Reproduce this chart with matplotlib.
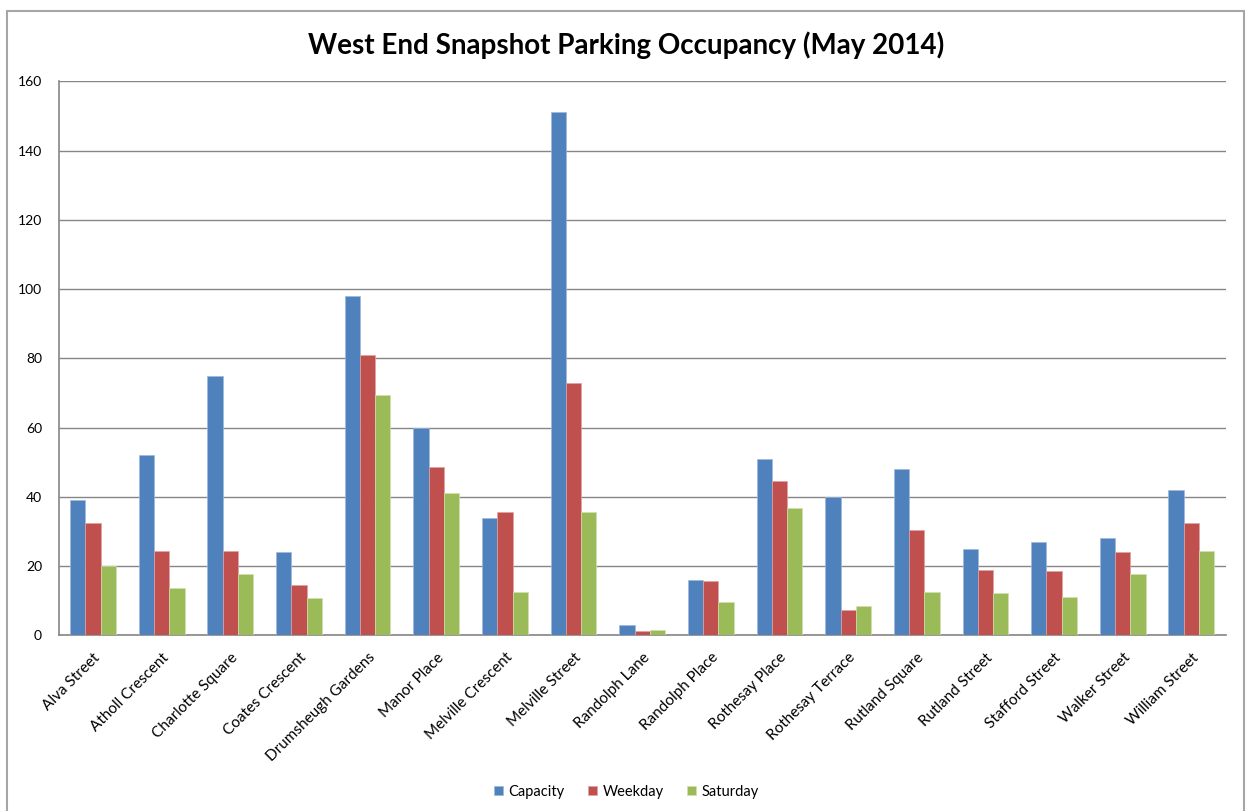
import matplotlib
matplotlib.use('Agg')
import matplotlib.pyplot as plt
from matplotlib.patches import Rectangle
import numpy as np

streets = ['Alva Street', 'Atholl Crescent', 'Charlotte Square', 'Coates Crescent',
           'Drumsheugh Gardens', 'Manor Place', 'Melville Crescent', 'Melville Street',
           'Randolph Lane', 'Randolph Place', 'Rothesay Place', 'Rothesay Terrace',
           'Rutland Square', 'Rutland Street', 'Stafford Street', 'Walker Street',
           'William Street']
capacity = [39, 52, 75, 24, 98, 60, 34, 151, 3, 16, 51, 40, 48, 25, 27, 28, 42]
weekday = [32.5, 24.4, 24.4, 14.6, 80.9, 48.5, 35.5, 73, 1.2, 15.8, 44.5, 7.4, 30.3, 19, 18.7, 24.1, 32.5]
saturday = [20, 13.6, 17.6, 10.7, 69.4, 41.2, 12.4, 35.5, 1.6, 9.5, 36.9, 8.5, 12.4, 12.1, 11, 17.6, 24.4]
yticks = [0, 20, 40, 60, 80, 100, 120, 140, 160]

plt.rcParams['font.family'] = ['Lato', 'DejaVu Sans']

fig = plt.figure(figsize=(12.53, 8.11), dpi=100)
# outer chart border (bottom edge is cut off in the original)
fig.patches.append(Rectangle((7 / 1253, -10 / 811), 1237 / 1253, 810 / 811, transform=fig.transFigure,
                             fill=False, edgecolor='#a6a6a6', linewidth=1.5))

ax = fig.add_axes([58.7 / 1253, 1 - 635.3 / 811, 1167 / 1253, 554 / 811])

x = np.arange(len(streets))
w = 1 / 4.5
ax.bar(x - w, capacity, w, color='#4F81BD', edgecolor='#9db8dc', linewidth=0.5, label='Capacity', zorder=3)
ax.bar(x, weekday, w, color='#C0504D', edgecolor='#e0a3a1', linewidth=0.5, label='Weekday', zorder=3)
ax.bar(x + w, saturday, w, color='#9BBB59', edgecolor='#cfe0ad', linewidth=0.5, label='Saturday', zorder=3)

ax.set_xlim(-0.5, len(streets) - 0.5)
ax.set_ylim(0, 160)
ax.set_yticks(yticks)
ax.yaxis.grid(True, color='#868686', linewidth=1, zorder=0)
ax.set_axisbelow(True)
for s in ['top', 'right']:
    ax.spines[s].set_visible(False)
for s in ['left', 'bottom']:
    ax.spines[s].set_color('#868686')
    ax.spines[s].set_linewidth(1.2)
ax.tick_params(axis='y', length=0, labelsize=10, pad=12)
ax.tick_params(axis='x', length=0, pad=11)
ax.set_xticks(x)
ax.set_xticklabels(streets, rotation=45, ha='right', rotation_mode='anchor', fontsize=11)

fig.text(0.4995, 1 - 45 / 811, 'West End Snapshot Parking Occupancy (May 2014)',
         ha='center', va='center', fontsize=20, fontweight='bold')

fig.legend(loc='center', bbox_to_anchor=(0.5, 1 - 792 / 811), ncol=3, frameon=False,
           fontsize=10.5, handlelength=0.6, handleheight=0.6, handletextpad=0.4, columnspacing=1.6)

fig.savefig('out.png', dpi=100)
